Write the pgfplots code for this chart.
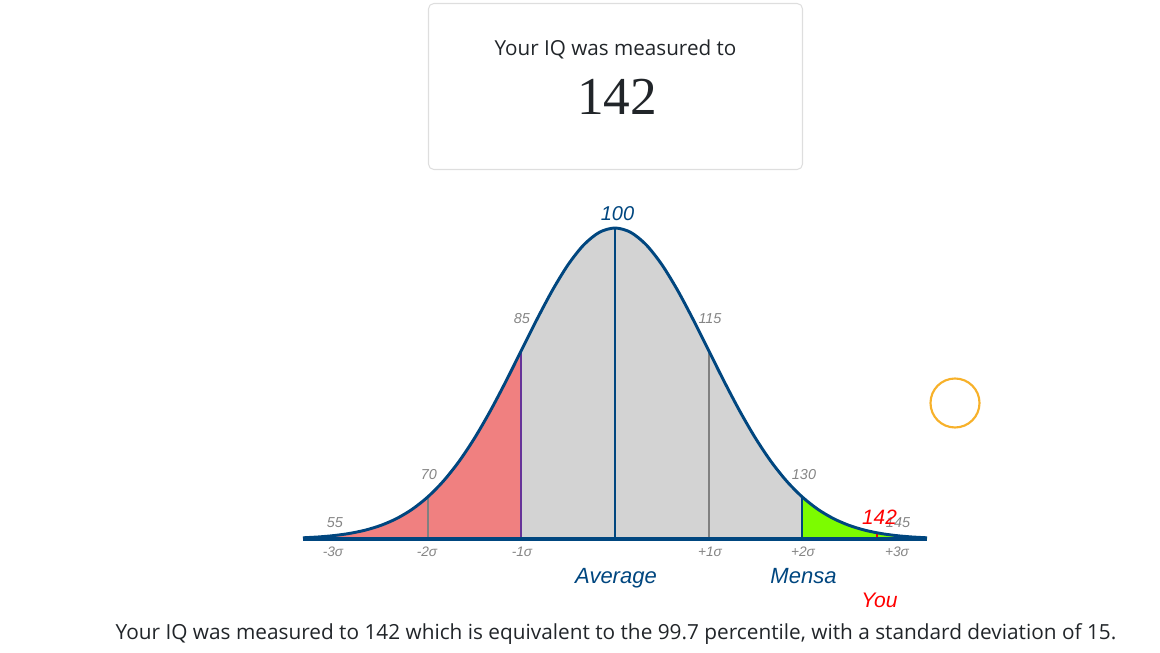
\documentclass[border=0pt]{standalone}
\usepackage{pgfplots}
\usepackage{pgfplotstable}
\pgfplotsset{compat=1.18}
\usepackage{fontspec}
\setmainfont{Liberation Sans}
\newfontfamily\uifont{Open Sans}
\newfontfamily\numserif{Liberation Serif}
\definecolor{curveblue}{HTML}{00467F}
\definecolor{coral}{HTML}{F08080}
\definecolor{lgrey}{HTML}{D3D3D3}
\definecolor{lgreen}{HTML}{7CFC00}
\definecolor{rpurple}{HTML}{663399}
\definecolor{lblgrey}{HTML}{858585}
\definecolor{txt}{HTML}{212529}
\definecolor{boxborder}{HTML}{DEDEDE}
\definecolor{ring}{HTML}{F7B12A}

\pgfplotstableread{
iq dens
50    0.00387
52.5  0.00665
55    0.01111
57.5  0.01807
60    0.02857
62.5  0.04394
65    0.06573
67.5  0.09564
70    0.13534
72.5  0.18627
75    0.24935
77.5  0.32465
80    0.41111
82.5  0.50633
85    0.60653
87.5  0.70664
90    0.80074
92.5  0.88250
95    0.94596
97.5  0.98621
100   1.00000
102.5 0.98621
105   0.94596
107.5 0.88250
110   0.80074
112.5 0.70664
115   0.60653
117.5 0.50633
120   0.41111
122.5 0.32465
125   0.24935
127.5 0.18627
130   0.13534
132.5 0.09564
135   0.06573
137.5 0.04394
140   0.02857
142.5 0.01807
145   0.01111
147.5 0.00665
150   0.00387
}\curve

\begin{document}
\begin{tikzpicture}
\begin{axis}[
  at={(0,0)}, anchor=south west,
  scale only axis, width=468pt, height=233.25pt,
  xmin=50, xmax=150, ymin=0, ymax=1,
  hide axis, clip=false,
]
% fills
\addplot[draw=none, fill=coral, smooth, restrict x to domain=50:85] table[x=iq,y=dens]{\curve} \closedcycle;
\addplot[draw=none, fill=lgrey, smooth, restrict x to domain=85:130] table[x=iq,y=dens]{\curve} \closedcycle;
\addplot[draw=none, fill=lgreen, smooth, restrict x to domain=130:150] table[x=iq,y=dens]{\curve} \closedcycle;
% vertical markers
\addplot[gray, line width=1.5pt] coordinates {(70,0) (70,0.13534)};
\addplot[rpurple, line width=1.5pt] coordinates {(85,0) (85,0.60653)};
\addplot[curveblue, line width=1.8pt] coordinates {(100,0) (100,1)};
\addplot[gray, line width=1.5pt] coordinates {(115,0) (115,0.60653)};
\addplot[curveblue, line width=1.8pt] coordinates {(130,0) (130,0.13534)};
\addplot[gray, line width=1.2pt] coordinates {(145,0) (145,0.01111)};
\addplot[red, line width=1.5pt] coordinates {(142,0) (142,0.01984)};
% curve and baseline
\addplot[curveblue, line width=2.2pt, smooth] table[x=iq,y=dens]{\curve};
\addplot[curveblue, line width=2.4pt] coordinates {(50,0) (150,0)};
\coordinate (pxo) at (axis cs:50,0);
\end{axis}
\begin{scope}[shift={(pxo)}, xshift=-227.25pt, yshift=404.25pt, x=0.75pt, y=-0.75pt]
% top box
\draw[boxborder, line width=0.8pt, rounded corners=4pt] (428.5,3.5) rectangle (802.5,169.5);
\node[anchor=base, text=txt, font=\uifont\fontsize{15.5pt}{17pt}\selectfont, inner sep=0pt] at (615.5,56) {Your IQ was measured to};
\node[anchor=base, text=txt, font=\numserif\fontsize{40pt}{44pt}\selectfont, inner sep=0pt] at (617,115) {142};
% value labels
\node[anchor=base, text=curveblue, font=\itshape\fontsize{15pt}{17pt}\selectfont, inner sep=0pt] at (617.5,221) {100};
\begin{scope}[every node/.style={anchor=base, text=lblgrey, font=\itshape\fontsize{10.8pt}{12pt}\selectfont, inner sep=0pt}]
\node at (522,324) {85};
\node at (710,324) {115};
\node at (429,480) {70};
\node at (804,480) {130};
\node at (335,527) {55};
\node at (898,527) {145};
\end{scope}
\begin{scope}[every node/.style={anchor=base, text=lblgrey, font=\itshape\fontsize{10.3pt}{12pt}\selectfont, inner sep=0pt}]
\node at (333,556) {-3σ};
\node at (427,556) {-2σ};
\node at (522,556) {-1σ};
\node at (710,556) {+1σ};
\node at (803,556) {+2σ};
\node at (897,556) {+3σ};
\end{scope}
\node[anchor=base, text=red, font=\itshape\fontsize{15.6pt}{17pt}\selectfont, inner sep=0pt] at (879.5,525) {142};
\node[anchor=base, text=curveblue, font=\itshape\fontsize{16.5pt}{18pt}\selectfont, inner sep=0pt] at (616,583) {Average};
\node[anchor=base, text=curveblue, font=\itshape\fontsize{16.5pt}{18pt}\selectfont, inner sep=0pt] at (803.5,583) {Mensa};
\node[anchor=base, text=red, font=\itshape\fontsize{15.8pt}{17pt}\selectfont, inner sep=0pt] at (879.5,607) {You};
% ring
\draw[ring, line width=1.6pt] (955,403) circle[radius=24.5];
% bottom sentence
\node[anchor=base, text=txt, font=\uifont\fontsize{15.6pt}{17pt}\selectfont, inner sep=0pt] at (616,639) {Your IQ was measured to 142 which is equivalent to the 99.7 percentile, with a standard deviation of 15.};
\useasboundingbox (0,0) rectangle (1160,653);
\end{scope}
\end{tikzpicture}
\end{document}
